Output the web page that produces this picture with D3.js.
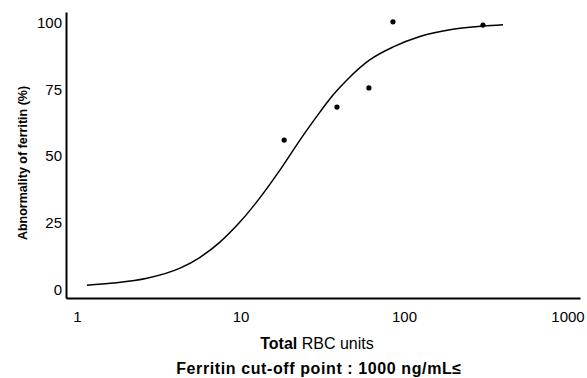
<!DOCTYPE html>
<html><head><meta charset="utf-8">
<script src="https://cdn.jsdelivr.net/npm/d3@7"></script>
<style>
body{margin:0;background:#fff;}
svg{display:block;}
text{font-family:"Liberation Sans",Arial,sans-serif;fill:#000;}
</style></head>
<body>
<svg id="c" width="587" height="378"></svg>
<script>
// Observed data points (total RBC units, abnormality %)
const pointX = [18.5, 38.9, 61, 85.6, 304];
const pointY = [56.0, 68.4, 75.6, 100.4, 99.2];
// Fitted curve
const curveX = [1.15, 1.66, 2.68, 4.27, 5.66, 7.49, 9.92, 13.1, 17.5, 23.1, 30.6, 36.8, 46.7, 61.7, 86.0, 125, 199, 304, 403];
const curveY = [1.5, 2.3, 4.1, 7.9, 12.0, 17.7, 25.2, 34.2, 44.9, 56.0, 66.5, 72.9, 79.7, 86.1, 91.0, 94.9, 97.6, 98.8, 99.3];
const xTicks = [1, 10, 100, 1000];
const yTicks = [0, 25, 50, 75, 100];

const svg = d3.select("#c");
const L = 66, R = 580, T = 12, B = 298;
const x = d3.scaleLog().domain([0.857, 1192]).range([L, R]);
const y = d3.scaleLinear().domain([-3.3, 104.1]).range([B, T]);

// axes
const xAxis = d3.axisBottom(x).tickValues(xTicks).tickFormat(d3.format("d")).tickSize(0).tickPadding(13);
const gx = svg.append("g").attr("transform", `translate(0,${B})`).call(xAxis);
gx.select(".domain").attr("stroke", "#000").attr("stroke-width", 2);
gx.selectAll("text").attr("font-size", 15).style("font-family", "Liberation Sans, Arial, sans-serif");

const yAxis = d3.axisLeft(y).tickValues(yTicks).tickSize(0).tickPadding(4);
const gy = svg.append("g").attr("transform", `translate(${L},0)`).call(yAxis);
gy.select(".domain").attr("stroke", "#000").attr("stroke-width", 2);
gy.selectAll("text").attr("font-size", 15).style("font-family", "Liberation Sans, Arial, sans-serif");

// curve
const line = d3.line().x(d => x(d[0])).y(d => y(d[1])).curve(d3.curveMonotoneX);
svg.append("path").datum(d3.zip(curveX, curveY))
  .attr("d", line).attr("fill", "none").attr("stroke", "#000").attr("stroke-width", 1.5);

// points
svg.selectAll("circle.pt").data(d3.zip(pointX, pointY)).join("circle")
  .attr("class", "pt").attr("cx", d => x(d[0])).attr("cy", d => y(d[1])).attr("r", 2.6).attr("fill", "#000");

// titles
const t1 = svg.append("text").attr("x", 317).attr("y", 349).attr("text-anchor", "middle").attr("font-size", 16);
t1.append("tspan").attr("font-weight", "bold").text("Total");
t1.append("tspan").text(" RBC units");

svg.append("text").attr("x", 319).attr("y", 374).attr("text-anchor", "middle")
  .attr("font-size", 16).attr("font-weight", "bold").attr("letter-spacing", 0.6)
  .text("Ferritin cut-off point : 1000 ng/mL≤");

svg.append("text").attr("transform", "translate(27,163) rotate(-90)").attr("text-anchor", "middle")
  .attr("font-size", 12.5).attr("font-weight", "bold").text("Abnormality of ferritin (%)");
</script>
</body></html>
